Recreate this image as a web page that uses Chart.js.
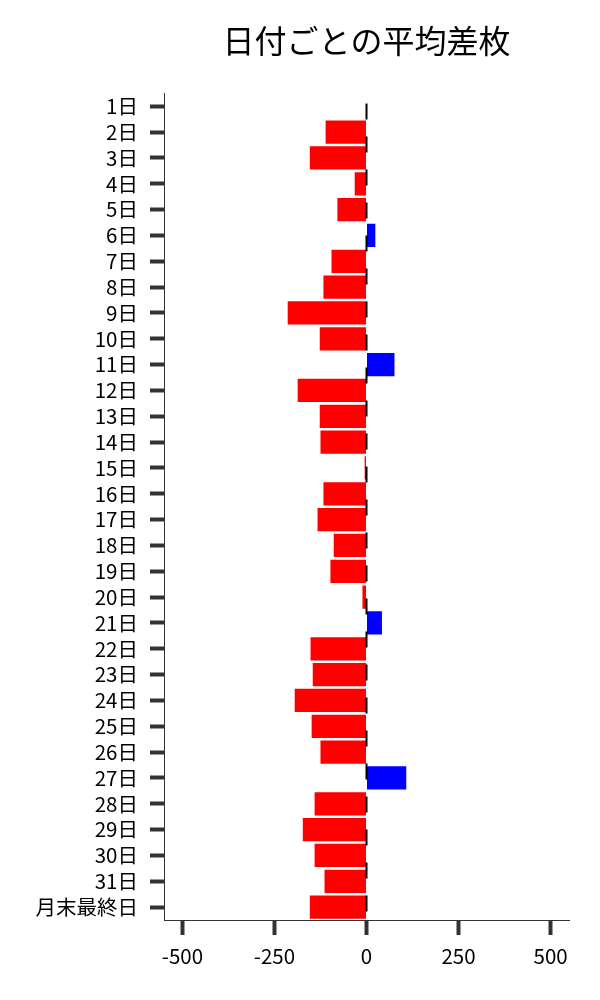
<!DOCTYPE html>
<html>
<head>
<meta charset="utf-8">
<script src="https://cdn.jsdelivr.net/npm/chart.js@4.4.1/dist/chart.umd.min.js"></script>
<style>
  html, body { margin: 0; padding: 0; background: #fff; }
  #wrap { width: 600px; height: 1000px; position: relative; }
</style>
</head>
<body>
<div id="wrap"><canvas id="c" width="600" height="1000"></canvas></div>
<script>
const categories = ["1日","2日","3日","4日","5日","6日","7日","8日","9日","10日","11日","12日","13日","14日","15日","16日","17日","18日","19日","20日","21日","22日","23日","24日","25日","26日","27日","28日","29日","30日","31日","月末最終日"];
const avgDiff = [0,-111,-154,-32,-79,24,-95,-117,-214,-127,76,-187,-127,-125,-5,-117,-133,-89,-98,-11,42,-152,-146,-195,-149,-125,108,-141,-173,-141,-114,-154];
const xTicks = [-500,-250,0,250,500];
const titleText = "日付ごとの平均差枚";

const FONT = "'Noto Sans CJK JP', 'Noto Sans', sans-serif";

const zeroLine = {
  id: 'zeroLine',
  afterDatasetsDraw(chart) {
    const {ctx, chartArea, scales} = chart;
    const x = scales.x.getPixelForValue(0);
    ctx.save();
    ctx.strokeStyle = '#000';
    ctx.lineWidth = 2;
    ctx.setLineDash([16, 17]);
    ctx.beginPath();
    ctx.moveTo(x, chartArea.top + 10);
    ctx.lineTo(x, chartArea.bottom - 4);
    ctx.stroke();
    ctx.restore();
  }
};

new Chart(document.getElementById('c'), {
  type: 'bar',
  data: {
    labels: categories,
    datasets: [{
      data: avgDiff,
      backgroundColor: avgDiff.map(v => v >= 0 ? '#0000ff' : '#ff0000'),
      borderWidth: 0,
      barPercentage: 0.9,
      categoryPercentage: 1.0
    }]
  },
  options: {
    indexAxis: 'y',
    responsive: false,
    animation: false,
    devicePixelRatio: 1,
    layout: { padding: { left: 0, right: 31, top: 0, bottom: 0 } },
    plugins: {
      legend: { display: false },
      tooltip: { enabled: false },
      title: {
        display: true,
        text: titleText,
        fullSize: false,
        color: '#000',
        font: { family: FONT, size: 32, weight: 'normal' },
        padding: { top: 22, bottom: 33 }
      }
    },
    scales: {
      x: {
        min: -550,
        max: 550,
        afterBuildTicks(scale) { scale.ticks = xTicks.map(v => ({ value: v })); },
        afterFit(scale) { scale.height = 80; },
        grid: {
          display: true,
          drawOnChartArea: false,
          drawTicks: true,
          tickLength: 15,
          tickWidth: 4,
          tickColor: '#333'
        },
        border: { display: true, color: '#333', width: 1 },
        ticks: {
          color: '#000',
          padding: 9,
          font: { family: FONT, size: 20.5 }
        }
      },
      y: {
        afterFit(scale) { scale.width = 164; },
        grid: {
          display: true,
          drawOnChartArea: false,
          drawTicks: true,
          tickLength: 14,
          tickWidth: 4,
          tickColor: '#333',
          offset: false
        },
        border: { display: true, color: '#333', width: 1 },
        ticks: {
          color: '#000',
          padding: 12,
          autoSkip: false,
          font: { family: FONT, size: 20.5 }
        }
      }
    }
  },
  plugins: [zeroLine]
});
</script>
</body>
</html>
